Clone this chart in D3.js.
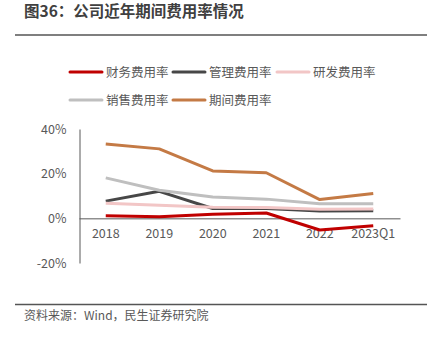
<!DOCTYPE html>
<html>
<head>
<meta charset="utf-8">
<script src="https://cdn.jsdelivr.net/npm/d3@7"></script>
<style>
  body { margin: 0; background: #fff; }
  svg { display: block; font-family: "Noto Sans CJK SC", "Noto Sans", sans-serif; }
</style>
</head>
<body>
<div id="chart"></div>
<script>
// data (percent)
var years = ["2018", "2019", "2020", "2021", "2022", "2023Q1"];
var seriesNames = ["财务费用率", "管理费用率", "研发费用率", "销售费用率", "期间费用率"];
var finance = [1.2, 0.7, 1.8, 2.4, -5.2, -3.3];
var admin = [7.7, 12.1, 4.4, 4.4, 3.3, 3.4];
var rnd = [6.7, 5.9, 5.0, 4.9, 4.1, 4.2];
var sales = [18.1, 12.6, 9.6, 8.6, 6.5, 6.5];
var period = [33.3, 31.1, 21.2, 20.4, 8.4, 11.1];
var yTicks = [-20, 0, 20, 40];
var colors = ["#c00000", "#474747", "#f2c6c6", "#bfbfbf", "#c47a45"];

var dataset = [finance, admin, rnd, sales, period];

var w = 433, h = 349;
var svg = d3.select("#chart").append("svg").attr("width", w).attr("height", h);

// title + rules
svg.append("text").attr("x", 24).attr("y", 17)
  .attr("font-size", 15.5).attr("font-weight", "bold").attr("fill", "#404040")
  .text("图36：公司近年期间费用率情况");
svg.append("line").attr("x1", 15).attr("x2", 427).attr("y1", 35).attr("y2", 35)
  .attr("stroke", "#555").attr("stroke-width", 1.5);
svg.append("line").attr("x1", 15).attr("x2", 427).attr("y1", 304.5).attr("y2", 304.5)
  .attr("stroke", "#555").attr("stroke-width", 1.5);
svg.append("text").attr("x", 24).attr("y", 316).attr("dy", "0.36em")
  .attr("font-size", 12).attr("fill", "#595959")
  .text("资料来源：Wind，民生证券研究院");

// scales
var scaleX = d3.scaleBand().domain(years).range([79, 400]);
var scaleY = d3.scaleLinear().domain([-20, 40]).range([263, 129]);

// y axis
var yAxis = d3.axisLeft(scaleY).tickValues(yTicks).tickSize(0).tickPadding(13)
  .tickFormat(function(d){ return d + "%"; });
var gy = svg.append("g").attr("transform", "translate(79.5,0)").call(yAxis);
gy.select(".domain").attr("stroke", "#595959").attr("stroke-width", 1);
gy.selectAll("text").attr("font-size", 12.5).attr("fill", "#595959")
  .attr("font-family", "'Noto Sans CJK SC', sans-serif");

// x axis at 0%
var xAxis = d3.axisBottom(scaleX).tickSize(0).tickPadding(11);
var gx = svg.append("g").attr("transform", "translate(0," + scaleY(0) + ")").call(xAxis);
gx.select(".domain").attr("stroke", "#595959").attr("stroke-width", 1);
gx.selectAll("text").attr("font-size", 12.5).attr("fill", "#595959")
  .attr("font-family", "'Noto Sans CJK SC', sans-serif");

// lines
var line = d3.line()
  .x(function(d, i){ return scaleX(years[i]) + scaleX.bandwidth() / 2; })
  .y(function(d){ return scaleY(d); });

// legend order, red drawn last so it sits on the axis
var order = [1, 2, 3, 4, 0];
order.forEach(function(k){
  svg.append("path").datum(dataset[k])
    .attr("d", line)
    .attr("fill", "none")
    .attr("stroke", colors[k])
    .attr("stroke-width", 3)
    .attr("stroke-linejoin", "round");
});

// legend
var legendPos = [[70, 72], [173, 72], [277, 72], [70, 100], [173, 100]];
seriesNames.forEach(function(name, i){
  var p = legendPos[i];
  svg.append("line").attr("x1", p[0]).attr("x2", p[0] + 32)
    .attr("y1", p[1]).attr("y2", p[1])
    .attr("stroke", colors[i]).attr("stroke-width", 3).attr("stroke-linecap", "round");
  svg.append("text").attr("x", p[0] + 36).attr("y", p[1]).attr("dy", "0.36em")
    .attr("font-size", 12.5).attr("fill", "#595959").text(name);
});
</script>
</body>
</html>
